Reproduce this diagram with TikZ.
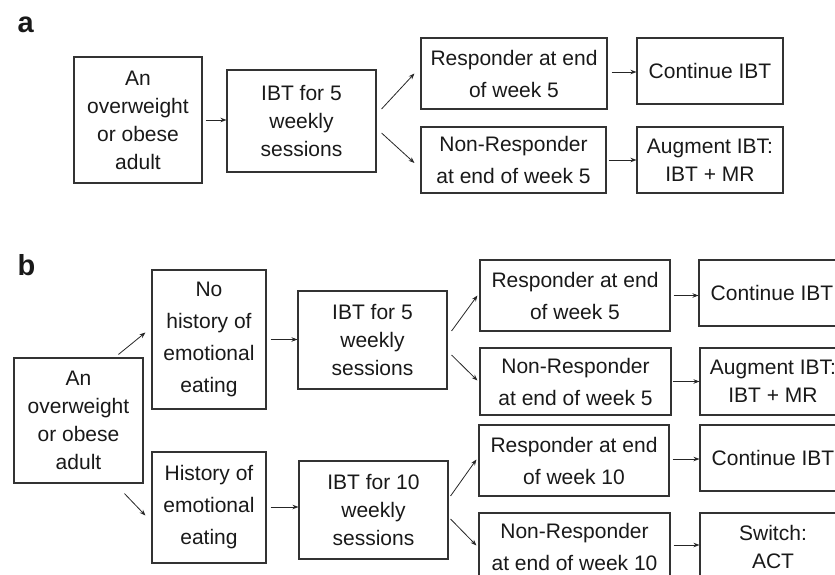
\documentclass[tikz,border=0pt]{standalone}
\usepackage{fontspec}
\setmainfont{Liberation Sans}
\usepackage{tikz}
\usetikzlibrary{arrows.meta}

\begin{document}
\begin{tikzpicture}[x = 1pt, y = -1pt,
	box/.style = {draw = black!80, line width = 1.1pt, inner sep = 0pt, align = center, text = black!90, font = \fontsize{21}{28}\selectfont},
	tallbox/.style = {box, font = \fontsize{21}{32}\selectfont},
	arr/.style = {-{Stealth[length = 6pt, width = 4.5pt]}, black!85, line width = 0.8pt},
	panel/.style = {anchor = base west, font = \fontsize{29}{29}\bfseries, text = black!90}]
	\useasboundingbox (0,0) rectangle (835,575);
	\clip (0,0) rectangle (835,575);
	% panel a
	\node [panel] (labA) at (14,33) {a};
	\node [box, minimum width = 128pt, minimum height = 126pt] (aAdult) at (138,120) {An\\overweight\\or obese\\adult};
	\node [box, minimum width = 149pt, minimum height = 102pt] (aIBT) at (301.5,121) {IBT for 5\\weekly\\sessions};
	\node [tallbox, minimum width = 186pt, minimum height = 71pt] (aResp) at (514,73.5) {Responder at end\\of week 5};
	\node [tallbox, minimum width = 185pt, minimum height = 66pt] (aNon) at (513.5,160) {Non-Responder\\at end of week 5};
	\node [box, minimum width = 146pt, minimum height = 66pt] (aCont) at (710,71) {Continue IBT};
	\node [box, minimum width = 146pt, minimum height = 66pt] (aAug) at (710,160) {Augment IBT:\\IBT + MR};
	\draw [arr, shorten <= 3pt] (aAdult.east) -- (aAdult.east -| aIBT.west);
	\draw [arr] ([shift = {(5,-12)}]aIBT.east) -- ([xshift = -6pt]aResp.west);
	\draw [arr] ([shift = {(5,12)}]aIBT.east) -- ([shift = {(-6,3)}]aNon.west);
	\draw [arr, shorten <= 4pt] ([yshift = 1.5pt]aResp.east) -- ([yshift = 1.5pt]aResp.east -| aCont.west);
	\draw [arr, shorten <= 2pt] (aNon.east) -- (aNon.east -| aAug.west);
	% panel b
	\node [panel] (labB) at (14,275) {b};
	\node [box, minimum width = 129pt, minimum height = 125pt] (bAdult) at (78.5,420.5) {An\\overweight\\or obese\\adult};
	\node [tallbox, minimum width = 114pt, minimum height = 139pt] (bNoHist) at (209,339.5) {No\\history of\\emotional\\eating};
	\node [tallbox, minimum width = 114pt, minimum height = 111pt] (bHist) at (209,507.5) {History of\\emotional\\eating};
	\node [box, minimum width = 149pt, minimum height = 98pt] (bIBTfive) at (372.5,340) {IBT for 5\\weekly\\sessions};
	\node [box, minimum width = 149pt, minimum height = 98pt] (bIBTten) at (373.5,510) {IBT for 10\\weekly\\sessions};
	\node [tallbox, minimum width = 190pt, minimum height = 71pt] (bRespFive) at (575,295.5) {Responder at end\\of week 5};
	\node [tallbox, minimum width = 191pt, minimum height = 67pt] (bNonFive) at (575.5,381.5) {Non-Responder\\at end of week 5};
	\node [tallbox, minimum width = 190pt, minimum height = 71pt] (bRespTen) at (574,460.5) {Responder at end\\of week 10};
	\node [tallbox, minimum width = 191pt, minimum height = 67pt] (bNonTen) at (574.5,546.5) {Non-Responder\\at end of week 10};
	\node [box, minimum width = 146pt, minimum height = 66pt] (bContFive) at (772,293) {Continue IBT};
	\node [box, minimum width = 146pt, minimum height = 67pt] (bAugFive) at (773,381.5) {Augment IBT:\\IBT + MR};
	\node [box, minimum width = 146pt, minimum height = 66pt] (bContTen) at (773,458) {Continue IBT};
	\node [box, minimum width = 146pt, minimum height = 67pt] (bSwitch) at (773,546.5) {Switch:\\ACT};
	\draw [arr] ([shift = {(105,-3)}]bAdult.north west) -- ([shift = {(-6,-7)}]bNoHist.west);
	\draw [arr] ([shift = {(111,10)}]bAdult.south west) -- ([shift = {(-6,8)}]bHist.west);
	\draw [arr, shorten <= 4pt] (bNoHist.east) -- (bNoHist.east -| bIBTfive.west);
	\draw [arr, shorten <= 4pt] ([yshift = 0.5pt]bHist.east) -- ([yshift = 0.5pt]bHist.east -| bIBTten.west);
	\draw [arr] ([shift = {(4,-9)}]bIBTfive.east) -- ([xshift = -2pt]bRespFive.west);
	\draw [arr] ([shift = {(4,15)}]bIBTfive.east) -- ([shift = {(-2,-1)}]bNonFive.west);
	\draw [arr] ([shift = {(2,-14)}]bIBTten.east) -- ([shift = {(-2,-1)}]bRespTen.west);
	\draw [arr] ([shift = {(2,9)}]bIBTten.east) -- ([shift = {(-2,-1)}]bNonTen.west);
	\draw [arr, shorten <= 3pt] (bRespFive.east) -- (bRespFive.east -| bContFive.west);
	\draw [arr, shorten <= 1pt] (bNonFive.east) -- (bNonFive.east -| bAugFive.west);
	\draw [arr, shorten <= 3pt] ([yshift = 1.5pt]bRespTen.east) -- ([yshift = 1.5pt]bRespTen.east -| bContTen.west);
	\draw [arr, shorten <= 3pt] ([yshift = 1.5pt]bNonTen.east) -- ([yshift = 1.5pt]bNonTen.east -| bSwitch.west);
\end{tikzpicture}
\end{document}
